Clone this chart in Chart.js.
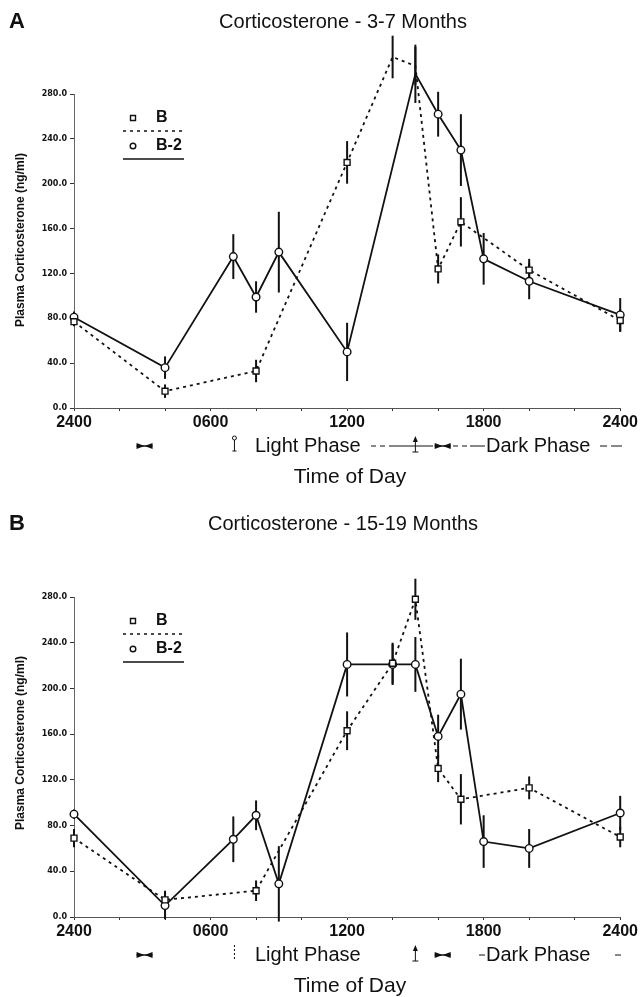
<!DOCTYPE html>
<html>
<head>
<meta charset="utf-8">
<script src="https://cdn.jsdelivr.net/npm/chart.js@4.4.1/dist/chart.umd.min.js"></script>
<style>
  html, body { margin: 0; padding: 0; background: #fff; }
  canvas { display: block; }
</style>
</head>
<body>
<canvas id="chartA" width="640" height="500"></canvas>
<canvas id="chartB" width="640" height="497"></canvas>
<script>
// sampling times (hour of day), means and SEM
const hoursA_B  = [0, 4, 8, 12, 14, 15, 16, 17, 20, 24];
const meanA_B   = [77, 15, 33, 219, 313, 305, 124, 166, 123, 78];
const semA_B    = [4, 6, 10, 19, 19, 17, 13, 22, 10, 10];
const hoursA_B2 = [0, 4, 7, 8, 9, 12, 15, 16, 17, 18, 20, 24];
const meanA_B2  = [81, 36, 135, 99, 139, 50, 298, 262, 230, 133, 113, 83];
const semA_B2   = [5, 10, 20, 14, 36, 26, 26, 20, 32, 23, 16, 15];

const hoursB_B  = [0, 4, 8, 12, 14, 15, 16, 17, 20, 24];
const meanB_B   = [69, 15, 23, 163, 222, 278, 130, 103, 113, 70];
const semB_B    = [8, 8, 9, 17, 18, 18, 12, 22, 10, 9];
const hoursB_B2 = [0, 4, 7, 8, 9, 12, 14, 15, 16, 17, 18, 20, 24];
const meanB_B2  = [90, 10, 68, 89, 29, 221, 221, 221, 158, 195, 66, 60, 91];
const semB_B2   = [4, 12, 20, 13, 33, 28, 18, 24, 19, 31, 23, 17, 15];

const xTickHours  = [0, 6, 12, 18, 24];
const xTickLabels = ['2400', '0600', '1200', '1800', '2400'];
const yMax = 280;

const INK = '#111';
const SANS = '"Liberation Sans", Arial, Helvetica, sans-serif';

function pts(hours, vals) {
  return hours.map((h, i) => ({x: h, y: vals[i]}));
}

// vertical SEM bars, drawn under the lines and markers
const errorBars = {
  id: 'errorBars',
  beforeDatasetsDraw(chart) {
    const {ctx, scales: {x, y}} = chart;
    ctx.save();
    ctx.strokeStyle = INK;
    ctx.lineWidth = 2;
    chart.data.datasets.forEach(ds => {
      ds.data.forEach((p, i) => {
        const e = ds.sem[i];
        const px = x.getPixelForValue(p.x);
        ctx.beginPath();
        ctx.moveTo(px, y.getPixelForValue(p.y - e));
        ctx.lineTo(px, y.getPixelForValue(p.y + e));
        ctx.stroke();
      });
    });
    ctx.restore();
  }
};

function bowtie(ctx, cx, cy) {
  ctx.beginPath();
  ctx.moveTo(cx - 8, cy - 3); ctx.lineTo(cx, cy); ctx.lineTo(cx - 8, cy + 3); ctx.closePath();
  ctx.moveTo(cx + 8, cy - 3); ctx.lineTo(cx, cy); ctx.lineTo(cx + 8, cy + 3); ctx.closePath();
  ctx.fill();
  ctx.fillRect(cx - 8, cy - 0.7, 16, 1.4);
}

function seg(ctx, x1, x2, y, dash) {
  ctx.save();
  ctx.setLineDash(dash || []);
  ctx.lineWidth = 1;
  ctx.beginPath(); ctx.moveTo(x1, y); ctx.lineTo(x2, y); ctx.stroke();
  ctx.restore();
}

// titles, legend and the light/dark phase row
const decor = {
  id: 'decor',
  afterDraw(chart, args, o) {
    const {ctx, chartArea: {top, bottom}, scales: {x}} = chart;
    ctx.save();
    ctx.fillStyle = INK;
    ctx.strokeStyle = INK;
    ctx.textBaseline = 'middle';

    ctx.textAlign = 'left';
    ctx.font = 'bold 22px ' + SANS;
    ctx.fillText(o.letter, 9, o.titleY);
    ctx.textAlign = 'center';
    ctx.font = '20px ' + SANS;
    ctx.fillText(o.title, 343, o.titleY);

    // y axis title
    ctx.save();
    ctx.translate(21, top + 146);
    ctx.rotate(-Math.PI / 2);
    ctx.font = 'bold 12px ' + SANS;
    ctx.fillText('Plasma Corticosterone (ng/ml)', 0, 0);
    ctx.restore();

    // legend
    const ly = top + 24;
    ctx.lineWidth = 1.4;
    ctx.fillStyle = '#fff';
    ctx.beginPath(); ctx.rect(130.5, ly - 2.5, 5, 5); ctx.fill(); ctx.stroke();
    ctx.beginPath(); ctx.arc(133, ly + 28, 2.8, 0, Math.PI * 2); ctx.fill(); ctx.stroke();
    ctx.fillStyle = INK;
    ctx.textAlign = 'left';
    ctx.font = 'bold 16px ' + SANS;
    ctx.fillText('B', 156, ly);
    ctx.fillText('B-2', 156, ly + 28);
    ctx.save();
    ctx.lineWidth = 1.7;
    ctx.setLineDash([3, 4]);
    ctx.beginPath(); ctx.moveTo(123, ly + 13); ctx.lineTo(184, ly + 13); ctx.stroke();
    ctx.setLineDash([]);
    ctx.beginPath(); ctx.moveTo(123, ly + 41); ctx.lineTo(184, ly + 41); ctx.stroke();
    ctx.restore();

    // phase row under the axis
    const ry = bottom + 37;
    bowtie(ctx, x.getPixelForValue(3.1), ry + 1);
    bowtie(ctx, x.getPixelForValue(16.2), ry + 1);
    const lx = x.getPixelForValue(7.05);
    const ax = x.getPixelForValue(15.0);
    ctx.lineWidth = 1;
    if (o.variant === 'A') {
      ctx.beginPath(); ctx.arc(lx, ry - 7, 2, 0, Math.PI * 2); ctx.stroke();
      ctx.beginPath(); ctx.moveTo(lx, ry - 5); ctx.lineTo(lx, ry + 6);
      ctx.moveTo(lx - 2, ry + 6); ctx.lineTo(lx + 2, ry + 6); ctx.stroke();
      seg(ctx, 371, 392, ry + 1, [5, 4]);
      seg(ctx, 392, 433, ry + 1);
      seg(ctx, 453, 470, ry + 1, [5, 4]);
      seg(ctx, 470, 485, ry + 1);
      seg(ctx, 600, 607, ry + 1);
      seg(ctx, 611, 622, ry + 1);
    } else {
      ctx.save();
      ctx.setLineDash([2, 2]);
      ctx.beginPath(); ctx.moveTo(lx, ry - 9); ctx.lineTo(lx, ry + 6); ctx.stroke();
      ctx.restore();
      seg(ctx, 479, 485, ry + 1);
      seg(ctx, 615, 621, ry + 1);
    }
    // lights-out arrow
    ctx.beginPath(); ctx.moveTo(ax, ry + 7); ctx.lineTo(ax, ry - 4); ctx.stroke();
    ctx.beginPath(); ctx.moveTo(ax - 2.5, ry - 3); ctx.lineTo(ax, ry - 9); ctx.lineTo(ax + 2.5, ry - 3); ctx.closePath(); ctx.fill();
    ctx.beginPath(); ctx.moveTo(ax - 3, ry + 7); ctx.lineTo(ax + 3, ry + 7); ctx.stroke();

    ctx.font = '20px ' + SANS;
    ctx.textAlign = 'left';
    ctx.fillText('Light Phase', 255, ry + 1);
    ctx.fillText('Dark Phase', 486, ry + 1);
    ctx.textAlign = 'center';
    ctx.font = '21px ' + SANS;
    ctx.fillText('Time of Day', 350, bottom + 69);
    ctx.restore();
  }
};

function makeChart(id, o) {
  const H = document.getElementById(id).height;
  return new Chart(document.getElementById(id), {
    type: 'line',
    data: {
      datasets: [
        {
          label: 'B', data: pts(o.hB, o.mB), sem: o.sB,
          borderColor: INK, borderWidth: 1.8, borderDash: [3, 4],
          pointStyle: 'rect', pointRadius: 4.2, pointBorderWidth: 1.4,
          pointBackgroundColor: '#fff', pointBorderColor: INK,
          tension: 0, clip: false
        },
        {
          label: 'B-2', data: pts(o.hB2, o.mB2), sem: o.sB2,
          borderColor: INK, borderWidth: 1.8,
          pointStyle: 'circle', pointRadius: 3.8, pointBorderWidth: 1.4,
          pointBackgroundColor: '#fff', pointBorderColor: INK,
          tension: 0, clip: false
        }
      ]
    },
    options: {
      responsive: false,
      animation: false,
      devicePixelRatio: 1,
      layout: {padding: {top: o.top, left: 0, right: 18, bottom: 0}},
      plugins: {
        legend: {display: false},
        title: {display: false},
        tooltip: {enabled: false},
        decor: {letter: o.letter, title: o.title, titleY: o.titleY, variant: o.letter}
      },
      scales: {
        x: {
          type: 'linear', min: 0, max: 24,
          afterFit(s) { s.height = H - o.bottom; },
          ticks: {
            stepSize: 2, autoSkip: false, maxRotation: 0, padding: 2, color: INK,
            font: {family: SANS, size: 16, weight: 'bold'},
            callback(v) { const i = xTickHours.indexOf(v); return i < 0 ? '' : xTickLabels[i]; }
          },
          grid: {drawOnChartArea: false, tickLength: 3, color: '#333', lineWidth: 1},
          border: {display: true, color: '#555', width: 1, dash: [7, 3]}
        },
        y: {
          min: 0, max: yMax,
          afterFit(s) { s.width = 74; },
          ticks: {
            stepSize: 40, padding: 3, color: INK,
            font: {family: '"DejaVu Sans", sans-serif', size: 8, weight: 'bold'},
            callback(v) { return v.toFixed(1); }
          },
          grid: {drawOnChartArea: false, tickLength: 4, color: '#333', lineWidth: 1},
          border: {display: true, color: '#666', width: 1, dash: [1, 3]}
        }
      }
    },
    plugins: [errorBars, decor]
  });
}

makeChart('chartA', {
  letter: 'A', title: 'Corticosterone - 3-7 Months', titleY: 22,
  top: 94, bottom: 408,
  hB: hoursA_B, mB: meanA_B, sB: semA_B,
  hB2: hoursA_B2, mB2: meanA_B2, sB2: semA_B2
});
makeChart('chartB', {
  letter: 'B', title: 'Corticosterone - 15-19 Months', titleY: 24,
  top: 97, bottom: 417,
  hB: hoursB_B, mB: meanB_B, sB: semB_B,
  hB2: hoursB_B2, mB2: meanB_B2, sB2: semB_B2
});
</script>
</body>
</html>
